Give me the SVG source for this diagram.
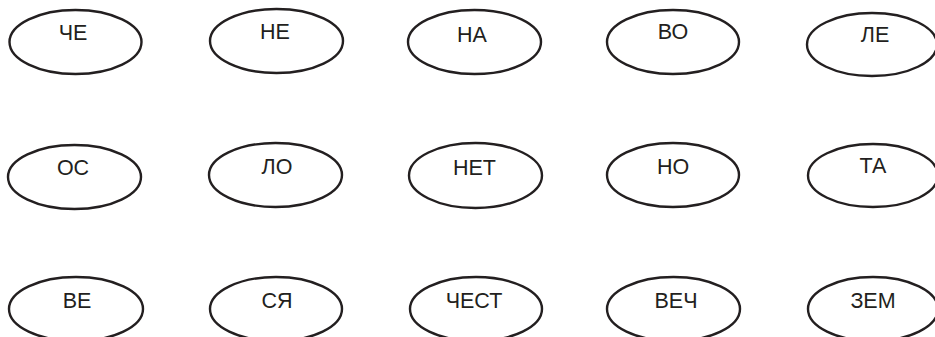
<svg xmlns="http://www.w3.org/2000/svg" width="935" height="337" viewBox="0 0 935 337">
<style>
.n ellipse{fill:#fff;stroke:#231f20;stroke-width:2.4}
.n text{font-family:"Liberation Sans",Arial,sans-serif;font-size:21.5px;fill:#231f20;text-anchor:middle}
</style>
<rect width="935" height="337" fill="#fff"/>
<g id="connectors"/>
<g id="n1" class="n"><ellipse cx="75.5" cy="42" rx="66" ry="32"/><text x="73" y="40">ЧЕ</text></g>
<g id="n2" class="n"><ellipse cx="276.5" cy="41" rx="66.5" ry="32"/><text x="275" y="39">НЕ</text></g>
<g id="n3" class="n"><ellipse cx="474.5" cy="42" rx="66.5" ry="32"/><text x="472" y="42">НА</text></g>
<g id="n4" class="n"><ellipse cx="673" cy="42" rx="66" ry="32"/><text x="673" y="39">ВО</text></g>
<g id="n5" class="n"><ellipse cx="872" cy="44.5" rx="65" ry="31.5"/><text x="875" y="42">ЛЕ</text></g>
<g id="n6" class="n"><ellipse cx="74.5" cy="177" rx="66.5" ry="32"/><text x="73" y="175">ОС</text></g>
<g id="n7" class="n"><ellipse cx="275.5" cy="175" rx="66.5" ry="32"/><text x="277" y="174">ЛО</text></g>
<g id="n8" class="n"><ellipse cx="475.5" cy="175.5" rx="66.5" ry="32.5"/><text x="474.5" y="175">НЕТ</text></g>
<g id="n9" class="n"><ellipse cx="673" cy="175" rx="66" ry="32"/><text x="673" y="174">НО</text></g>
<g id="n10" class="n"><ellipse cx="873" cy="175.5" rx="65" ry="31.5"/><text x="873" y="173">ТА</text></g>
<g id="n11" class="n"><ellipse cx="76" cy="309" rx="67" ry="32"/><text x="77" y="307.5">ВЕ</text></g>
<g id="n12" class="n"><ellipse cx="276" cy="309" rx="66" ry="32"/><text x="277" y="307.5">СЯ</text></g>
<g id="n13" class="n"><ellipse cx="476" cy="309" rx="66" ry="32"/><text x="474" y="307.5">ЧЕСТ</text></g>
<g id="n14" class="n"><ellipse cx="673.5" cy="309" rx="66.5" ry="32"/><text x="676" y="307.5">ВЕЧ</text></g>
<g id="n15" class="n"><ellipse cx="873" cy="309" rx="65" ry="32"/><text x="873" y="307.5">ЗЕМ</text></g>
</svg>
